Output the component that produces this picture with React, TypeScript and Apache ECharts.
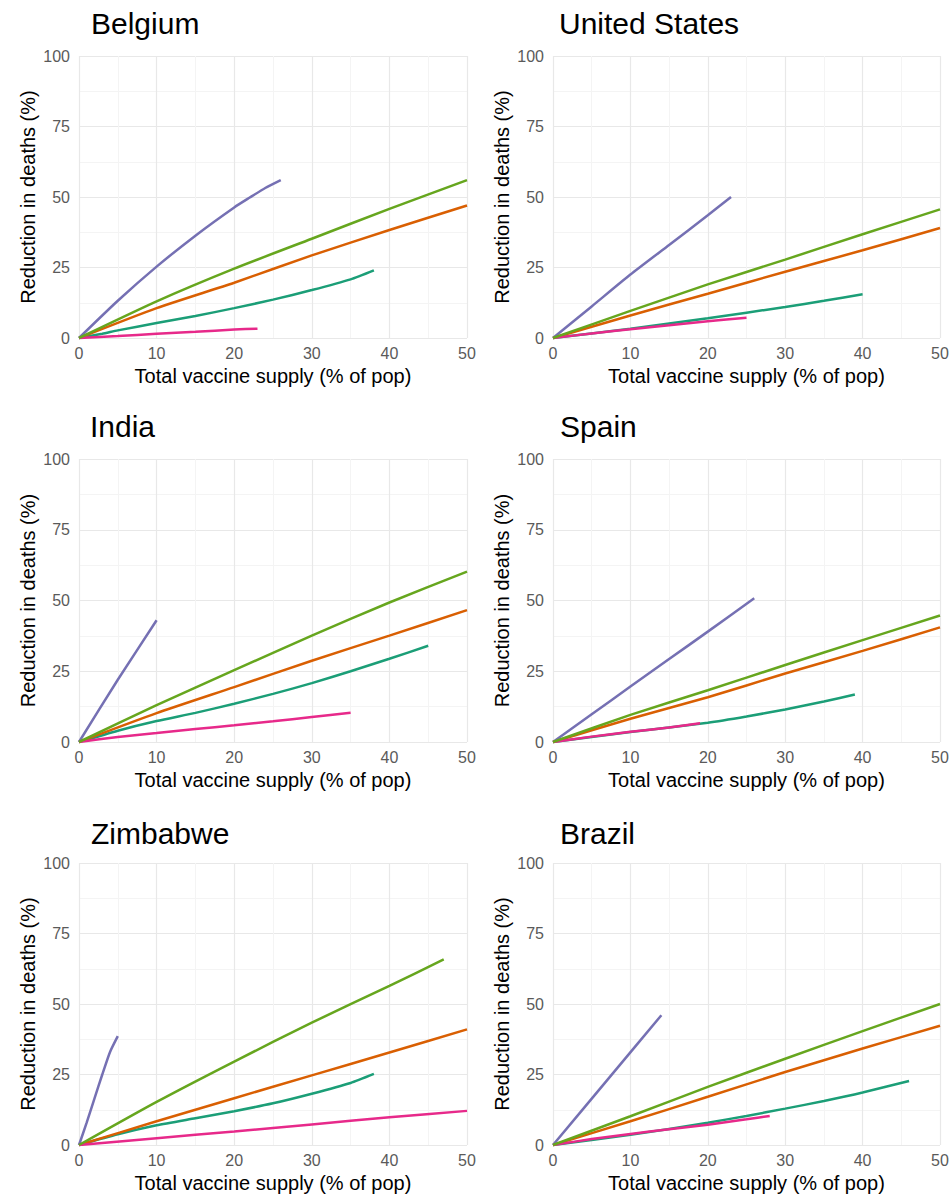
import React, { useEffect, useRef } from "react";
import * as echarts from "echarts";

type P = [number, number][];

const countries = ["Belgium", "United States", "India", "Spain", "Zimbabwe", "Brazil"];
const seriesNames = ["Teal", "Orange", "Purple", "Pink", "Green"];
const seriesColors = ["#1B9E77", "#D95F02", "#7570B3", "#E7298A", "#66A61E"];

const xTicks = [0, 10, 20, 30, 40, 50];
const yTicks = [0, 25, 50, 75, 100];

// Belgium
const belgiumTeal: P = [[0, 0], [3, 1.5], [5, 2.7], [10, 5.3], [15, 7.8], [20, 10.6], [25, 13.6], [30, 17], [35, 20.8], [38, 24]];
const belgiumOrange: P = [[0, 0], [10, 10.6], [20, 19.6], [30, 29.3], [40, 38.3], [50, 47]];
const belgiumPurple: P = [[0, 0], [5, 13.2], [10, 25.3], [15, 36.3], [20, 46.3], [22, 49.8], [24, 53.2], [26, 56]];
const belgiumPink: P = [[0, 0], [5, 0.7], [10, 1.5], [15, 2.2], [20, 3], [23, 3.3]];
const belgiumGreen: P = [[0, 0], [10, 13], [20, 24.6], [30, 35.2], [40, 45.8], [50, 56]];

// United States
const usTeal: P = [[0, 0], [10, 3.3], [20, 7], [30, 11], [35, 13.2], [40, 15.5]];
const usOrange: P = [[0, 0], [10, 8], [20, 15.7], [30, 23.5], [40, 31.1], [50, 39]];
const usPurple: P = [[0, 0], [5, 11.2], [10, 22.5], [15, 33], [20, 43.5], [23, 50]];
const usPink: P = [[0, 0], [5, 1.6], [10, 3.1], [15, 4.5], [20, 5.9], [25, 7.2]];
const usGreen: P = [[0, 0], [10, 9.6], [20, 19], [30, 27.8], [40, 36.8], [50, 45.6]];

// India
const indiaTeal: P = [[0, 0], [5, 4], [10, 7.4], [15, 10.3], [20, 13.5], [25, 17], [30, 20.8], [35, 25], [40, 29.4], [45, 34]];
const indiaOrange: P = [[0, 0], [10, 10.2], [20, 19.4], [30, 28.7], [40, 37.6], [50, 46.6]];
const indiaPurple: P = [[0, 0], [5, 22], [10, 43]];
const indiaPink: P = [[0, 0], [5, 1.8], [10, 3.2], [15, 4.6], [20, 5.9], [25, 7.3], [30, 8.8], [35, 10.3]];
const indiaGreen: P = [[0, 0], [10, 13], [20, 25.4], [30, 37.6], [40, 49.3], [50, 60.2]];

// Spain
const spainTeal: P = [[0, 0], [10, 3.5], [20, 6.8], [25, 9], [30, 11.5], [35, 14.3], [39, 16.8]];
const spainOrange: P = [[0, 0], [10, 8.2], [20, 15.8], [30, 24.2], [40, 32.2], [50, 40.5]];
const spainPurple: P = [[0, 0], [5, 9.8], [10, 19.6], [15, 29.3], [20, 39], [26, 50.8]];
const spainPink: P = [[0, 0], [5, 1.9], [10, 3.6], [15, 5.1], [19, 6.6]];
const spainGreen: P = [[0, 0], [10, 9.6], [20, 18.3], [30, 27.2], [40, 36], [50, 44.7]];

// Zimbabwe
const zimbabweTeal: P = [[0, 0], [5, 3.8], [10, 7], [15, 9.5], [20, 12], [25, 14.8], [30, 18.2], [35, 22], [38, 25.2]];
const zimbabweOrange: P = [[0, 0], [10, 8.4], [20, 16.6], [30, 24.7], [40, 32.8], [50, 41]];
const zimbabwePurple: P = [[0, 0], [1, 8], [2, 16.5], [3, 25], [4, 33], [5, 38.6]];
const zimbabwePink: P = [[0, 0], [10, 2.4], [20, 4.8], [30, 7.3], [40, 9.8], [50, 12.1]];
const zimbabweGreen: P = [[0, 0], [10, 15.3], [20, 29.6], [30, 43.4], [40, 56.4], [47, 65.8]];

// Brazil
const brazilTeal: P = [[0, 0], [10, 3.6], [20, 7.9], [25, 10.3], [30, 12.9], [35, 15.6], [40, 18.6], [46, 22.7]];
const brazilOrange: P = [[0, 0], [10, 8.4], [20, 17.1], [30, 25.9], [40, 34.2], [50, 42.3]];
const brazilPurple: P = [[0, 0], [7, 23], [14, 46]];
const brazilPink: P = [[0, 0], [5, 2.1], [10, 3.9], [15, 5.6], [20, 7.2], [25, 9.1], [28, 10.3]];
const brazilGreen: P = [[0, 0], [10, 10.2], [20, 20.6], [30, 30.6], [40, 40.4], [50, 50]];

const panelData: P[][] = [
  [belgiumTeal, belgiumOrange, belgiumPurple, belgiumPink, belgiumGreen],
  [usTeal, usOrange, usPurple, usPink, usGreen],
  [indiaTeal, indiaOrange, indiaPurple, indiaPink, indiaGreen],
  [spainTeal, spainOrange, spainPurple, spainPink, spainGreen],
  [zimbabweTeal, zimbabweOrange, zimbabwePurple, zimbabwePink, zimbabweGreen],
  [brazilTeal, brazilOrange, brazilPurple, brazilPink, brazilGreen],
];

const xTitle = "Total vaccine supply (% of pop)";
const yTitle = "Reduction in deaths (%)";

// layout
const gridBoxes = [
  { left: 79, top: 56, width: 388, height: 282 },
  { left: 553, top: 56, width: 387, height: 282 },
  { left: 79, top: 459, width: 388, height: 283 },
  { left: 553, top: 459, width: 387, height: 283 },
  { left: 79, top: 863, width: 388, height: 282 },
  { left: 553, top: 863, width: 387, height: 282 },
];
const titlePos = [
  { left: 91, top: 8 },
  { left: 559, top: 8 },
  { left: 90, top: 411 },
  { left: 560, top: 411 },
  { left: 91, top: 818 },
  { left: 560, top: 818 },
];

const FONT = "'Liberation Sans', Arial, sans-serif";

export default function App() {
  const ref = useRef<HTMLDivElement>(null);
  useEffect(() => {
    if (!ref.current) return;
    const chart = echarts.init(ref.current, null, { renderer: "svg" });
    const grid = gridBoxes.map((g) => ({ ...g, containLabel: false }));
    const title = countries.map((c, i) => ({
      text: c,
      left: titlePos[i].left,
      top: titlePos[i].top,
      padding: 0,
      textStyle: { fontSize: 30, fontWeight: "normal", color: "#000", fontFamily: FONT },
    }));
    const xAxis = countries.map((_, i) => ({
      type: "value",
      gridIndex: i,
      min: xTicks[0],
      max: xTicks[xTicks.length - 1],
      interval: xTicks[1] - xTicks[0],
      name: xTitle,
      nameLocation: "middle",
      nameGap: 28,
      nameTextStyle: { fontSize: 20, color: "#000", fontFamily: FONT },
      axisLine: { show: false },
      axisTick: { show: false },
      axisLabel: { fontSize: 16, color: "#5a5a5a", margin: 7, fontFamily: FONT, showMaxLabel: true, showMinLabel: true },
      splitLine: { show: true, lineStyle: { color: "#e8e8e8", width: 1.2 } },
      minorTick: { show: false, splitNumber: 2 },
      minorSplitLine: { show: true, lineStyle: { color: "#f4f4f4", width: 1 } },
    }));
    const yAxis = countries.map((_, i) => ({
      type: "value",
      gridIndex: i,
      min: yTicks[0],
      max: yTicks[yTicks.length - 1],
      interval: yTicks[1] - yTicks[0],
      name: yTitle,
      nameLocation: "middle",
      nameGap: 41,
      nameTextStyle: { fontSize: 20, color: "#000", fontFamily: FONT },
      axisLine: { show: false },
      axisTick: { show: false },
      axisLabel: { fontSize: 16, color: "#5a5a5a", margin: 9, fontFamily: FONT },
      splitLine: { show: true, lineStyle: { color: "#e8e8e8", width: 1.2 } },
      minorTick: { show: false, splitNumber: 2 },
      minorSplitLine: { show: true, lineStyle: { color: "#f4f4f4", width: 1 } },
    }));
    const series: any[] = [];
    panelData.forEach((panel, i) => {
      panel.forEach((pts, k) => {
        series.push({
          type: "line",
          name: countries[i] + " " + seriesNames[k],
          xAxisIndex: i,
          yAxisIndex: i,
          data: pts,
          showSymbol: false,
          symbol: "none",
          smooth: 0.2,
          lineStyle: { color: seriesColors[k], width: 2.5 },
          itemStyle: { color: seriesColors[k] },
          clip: false,
        });
      });
    });
    chart.setOption({
      animation: false,
      backgroundColor: "#ffffff",
      title,
      grid,
      xAxis,
      yAxis,
      series,
    });
    return () => chart.dispose();
  }, []);
  return (
    <div
      ref={ref}
      style={{ position: "absolute", left: 0, top: 0, width: 952, height: 1199 }}
    />
  );
}
